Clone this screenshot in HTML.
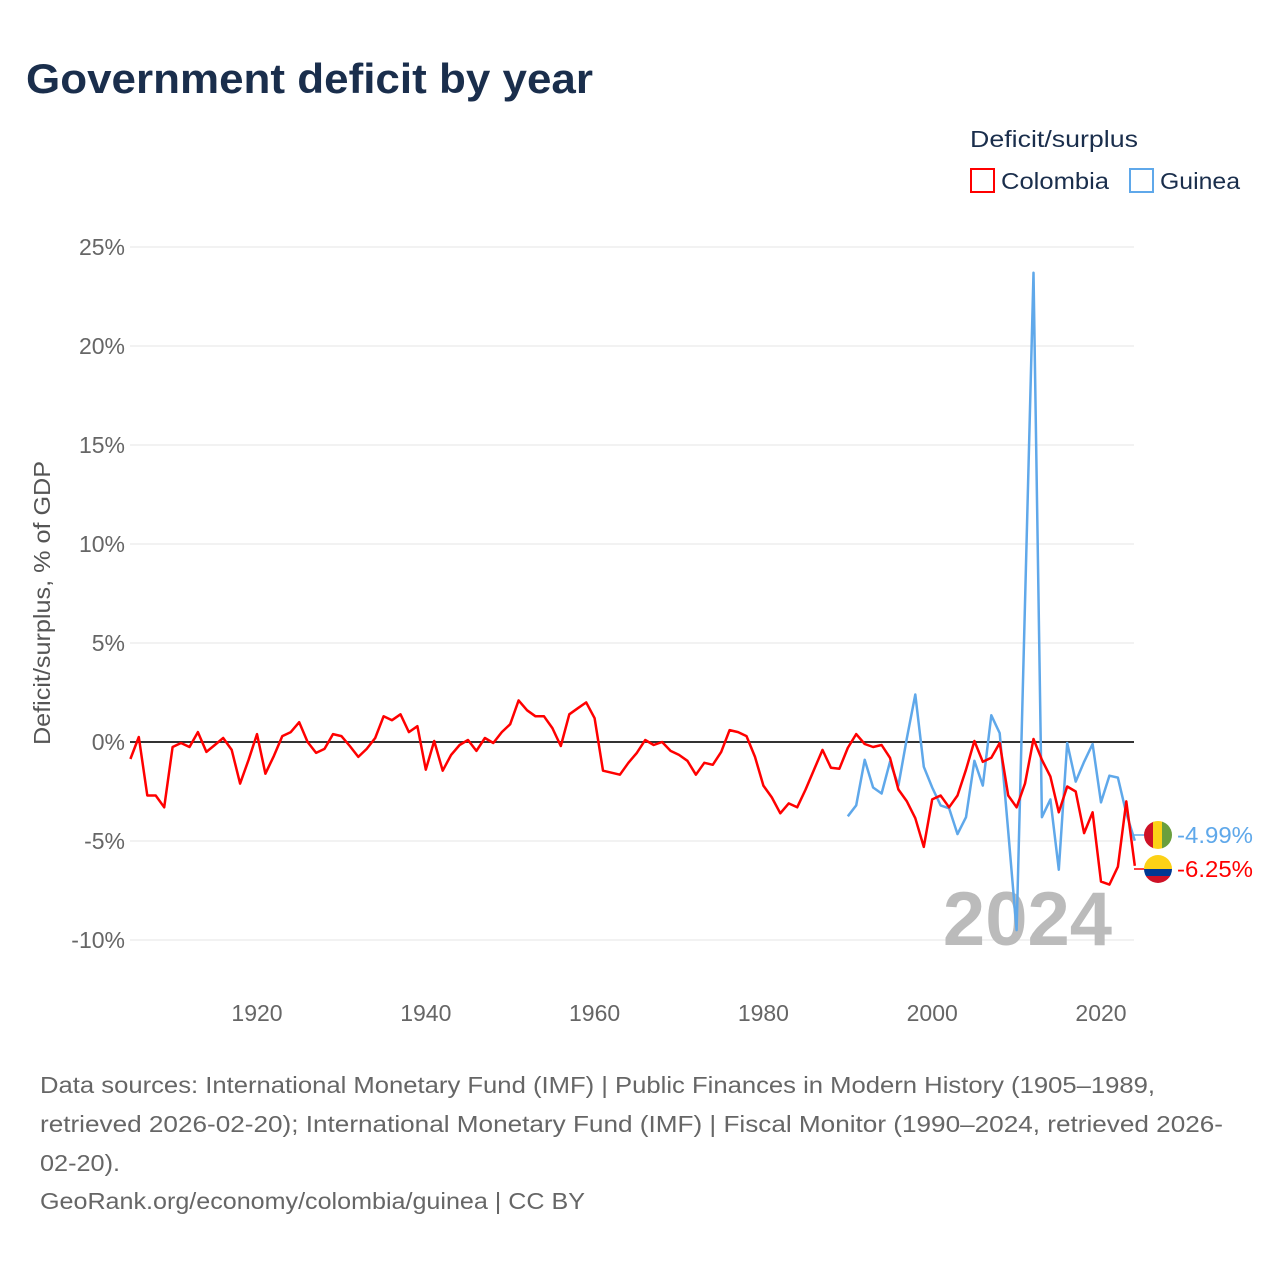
<!DOCTYPE html>
<html><head><meta charset="utf-8"><style>
body{margin:0;background:#fff;font-family:"Liberation Sans",sans-serif;}
</style></head><body>
<svg width="1280" height="1280" xmlns="http://www.w3.org/2000/svg" style="font-family:'Liberation Sans',sans-serif">
<text x="26" y="93" font-size="42" font-weight="bold" fill="#1a2e4c" textLength="567" lengthAdjust="spacingAndGlyphs">Government deficit by year</text>
<text x="970" y="147" font-size="23" fill="#1a2e4c" textLength="168" lengthAdjust="spacingAndGlyphs">Deficit/surplus</text>
<g><rect x="971" y="169" width="23" height="23" fill="none" stroke="#f00" stroke-width="2"/><text x="1001" y="189" font-size="23" fill="#1a2e4c" textLength="108" lengthAdjust="spacingAndGlyphs">Colombia</text></g>
<g><rect x="1130" y="169" width="23" height="23" fill="none" stroke="#5fa8ea" stroke-width="2"/><text x="1160" y="189" font-size="23" fill="#1a2e4c" textLength="80" lengthAdjust="spacingAndGlyphs">Guinea</text></g>
<g id="grid"></g>
<g id="yt"></g>
<g id="xt"></g>
<text transform="translate(50,603) rotate(-90)" text-anchor="middle" font-size="23" fill="#555" textLength="284" lengthAdjust="spacingAndGlyphs">Deficit/surplus, % of GDP</text>
<text x="1112" y="945" text-anchor="end" font-size="76" font-weight="bold" fill="#bbb">2024</text>
<line x1="130" x2="1134" y1="742" y2="742" stroke="#333" stroke-width="2"/>
<g id="series"></g>
<g>
<line x1="1134" x2="1145" y1="835" y2="835" stroke="#5fa8ea" stroke-width="1.5"/>
<line x1="1134" x2="1145" y1="869" y2="869" stroke="#f00" stroke-width="1.5"/>
<clipPath id="c1"><circle cx="1158" cy="835" r="14"/></clipPath>
<g clip-path="url(#c1)"><rect x="1144" y="821" width="10" height="28" fill="#ce1126"/><rect x="1153" y="821" width="10" height="28" fill="#fcd116"/><rect x="1162" y="821" width="10" height="28" fill="#6a9f3d"/></g>
<clipPath id="c2"><circle cx="1158" cy="869" r="14"/></clipPath>
<g clip-path="url(#c2)"><rect x="1144" y="855" width="28" height="14" fill="#fcd116"/><rect x="1144" y="869" width="28" height="7" fill="#003893"/><rect x="1144" y="876" width="28" height="7" fill="#ce1126"/></g>
<text x="1177" y="843" font-size="23" fill="#5fa8ea" textLength="76" lengthAdjust="spacingAndGlyphs">-4.99%</text>
<text x="1177" y="877" font-size="23" fill="#f00" textLength="76" lengthAdjust="spacingAndGlyphs">-6.25%</text>
</g>
<g font-size="23" fill="#666">
<text x="40" y="1093" textLength="1115" lengthAdjust="spacingAndGlyphs">Data sources: International Monetary Fund (IMF) | Public Finances in Modern History (1905–1989,</text>
<text x="40" y="1132" textLength="1183" lengthAdjust="spacingAndGlyphs">retrieved 2026-02-20); International Monetary Fund (IMF) | Fiscal Monitor (1990–2024, retrieved 2026-</text>
<text x="40" y="1171" textLength="80" lengthAdjust="spacingAndGlyphs">02-20).</text>
<text x="40" y="1209" textLength="545" lengthAdjust="spacingAndGlyphs">GeoRank.org/economy/colombia/guinea | CC BY</text>
</g>
</svg>
<script>
const yTicks=[25,20,15,10,5,0,-5,-10];
const yTickLabels=["25%","20%","15%","10%","5%","0%","-5%","-10%"];
const xTicks=[1920,1940,1960,1980,2000,2020];
const colombiaStart=1905;
const colombia=[-0.86,0.25,-2.7,-2.7,-3.3,-0.25,-0.05,-0.25,0.5,-0.5,-0.15,0.2,-0.4,-2.1,-0.9,0.4,-1.6,-0.7,0.3,0.5,1.0,0,-0.55,-0.35,0.4,0.3,-0.2,-0.75,-0.35,0.2,1.3,1.1,1.4,0.5,0.8,-1.4,0.05,-1.45,-0.65,-0.15,0.1,-0.45,0.2,-0.05,0.5,0.9,2.1,1.6,1.3,1.3,0.7,-0.2,1.4,1.7,2.0,1.2,-1.45,-1.55,-1.65,-1.05,-0.55,0.1,-0.15,0,-0.45,-0.65,-0.95,-1.65,-1.05,-1.15,-0.5,0.6,0.5,0.3,-0.75,-2.2,-2.8,-3.6,-3.1,-3.3,-2.4,-1.4,-0.4,-1.3,-1.35,-0.3,0.4,-0.1,-0.25,-0.15,-0.8,-2.4,-3.0,-3.85,-5.3,-2.9,-2.7,-3.3,-2.7,-1.4,0.05,-1.0,-0.8,-0.05,-2.7,-3.3,-2.1,0.15,-0.9,-1.75,-3.55,-2.25,-2.5,-4.6,-3.55,-7.05,-7.2,-6.3,-3.0,-6.25];
const guineaStart=1990;
const guinea=[-3.75,-3.2,-0.9,-2.3,-2.6,-1.0,-2.2,0.2,2.4,-1.25,-2.3,-3.2,-3.35,-4.65,-3.8,-0.95,-2.2,1.35,0.45,-4.5,-9.5,7.0,23.7,-3.8,-2.9,-6.45,-0.05,-2.0,-1.0,-0.1,-3.05,-1.7,-1.8,-3.6,-4.99];
const NS="http://www.w3.org/2000/svg";
const X=yr=>130.4+(yr-1905)*8.44;
const Y=v=>742-v*19.8;
function mk(t,a,p){const e=document.createElementNS(NS,t);for(const k in a)e.setAttribute(k,a[k]);p.appendChild(e);return e;}
const grid=document.getElementById('grid'),yt=document.getElementById('yt'),xt=document.getElementById('xt'),ser=document.getElementById('series');
yTicks.forEach((v,i)=>{
 const l=mk('line',{x1:130,x2:1134,y1:Y(v),y2:Y(v),stroke:'#e4e4e4','stroke-width':1},grid);
 
 
 const t=mk('text',{x:125,y:Y(v)+8,'text-anchor':'end','font-size':23,fill:'#666'},yt);
 t.textContent=yTickLabels[i];
 
 
});
xTicks.forEach(v=>{
 const t=mk('text',{x:X(v),y:1021,'text-anchor':'middle','font-size':23,fill:'#666'},xt);
 t.textContent=v;
 
 
});
function line(arr,start,color,name){
 const d=arr.map((v,i)=>(i?'L':'M')+X(start+i).toFixed(1)+','+Y(v).toFixed(1)).join('');
 const p=mk('path',{d:d,fill:'none',stroke:color,'stroke-width':2.5,'stroke-linejoin':'round'},ser);
 
 
}
line(guinea,guineaStart,'#5fa8ea','guinea-line');
line(colombia,colombiaStart,'#f00','colombia-line');
</script>
</body></html>
